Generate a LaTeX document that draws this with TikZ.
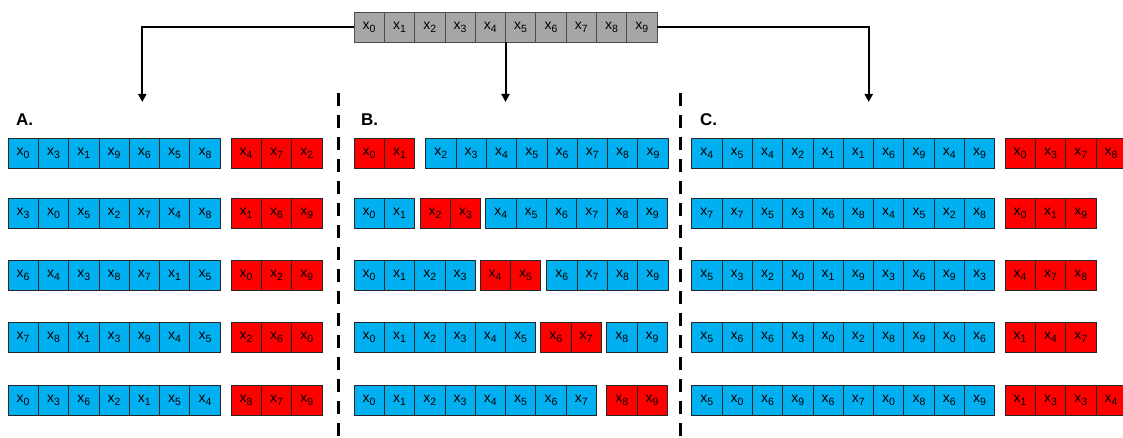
\documentclass[tikz,border=0pt]{standalone}
\usepackage{fontspec}
\setmainfont{Liberation Sans}
\usetikzlibrary{arrows.meta}
\definecolor{cblue}{HTML}{00B0F0}
\definecolor{cred}{HTML}{FF0000}
\definecolor{cgray}{HTML}{A6A6A6}
\newcommand\xs[1]{{\fontsize{14}{14}\selectfont x\raisebox{-3.2pt}{\fontsize{10.5}{10}\selectfont #1}}}
\newcommand\cellrow[5]{%
  \foreach \s [count=\i from 0] in {#5}
    \node[cellbox,#4] (#1\i) at ({#2+(\i+0.5)*30.3},{#3+15}) {\xs{\s}};}
\tikzset{
  cellbox/.style={draw=black!85,line width=0.8pt,minimum width=30.3pt,minimum height=30pt,inner sep=0pt,outer sep=0pt,anchor=center},
  bl/.style={fill=cblue},
  rd/.style={fill=cred},
  gr/.style={fill=cgray,draw=black!70},
  arr/.style={line width=2pt,-{Triangle[width=8pt,length=8pt]}},
  sep/.style={line width=3pt,dash pattern=on 13pt off 9pt},
  lab/.style={font=\fontsize{17}{17}\selectfont\bfseries,anchor=west,inner sep=0pt}
}
\begin{document}
\begin{tikzpicture}[x=1pt,y=-1pt]
\useasboundingbox (0,0) rectangle (1123,438);
\clip (0,0) rectangle (1123,438);
% top bar
\cellrow{t}{354}{12}{gr}{0,1,2,3,4,5,6,7,8,9}
\coordinate (tipA) at (142.3,102);
\coordinate (tipB) at (505.5,102);
\coordinate (tipC) at (868.7,102);
\draw[arr] (t0.west) -| (tipA);
\draw[arr] (t4.south east) -- (tipB);
\draw[arr] (t9.east) -| (tipC);
% separators
\coordinate (s1a) at (338,93); \coordinate (s1b) at (338,440);
\coordinate (s2a) at (680,93); \coordinate (s2b) at (680,440);
\draw[sep] (s1a) -- (s1b);
\draw[sep] (s2a) -- (s2b);
% labels
\node[lab] (labA) at (16,120) {A.};
\node[lab] (labB) at (361,120) {B.};
\node[lab] (labC) at (700,120) {C.};
% A
\cellrow{aa}{8}{138}{bl}{0,3,1,9,6,5,8}\cellrow{ab}{231}{138}{rd}{4,7,2}
\cellrow{ac}{8}{198}{bl}{3,0,5,2,7,4,8}\cellrow{ad}{231}{198}{rd}{1,6,9}
\cellrow{ae}{8}{260}{bl}{6,4,3,8,7,1,5}\cellrow{af}{231}{260}{rd}{0,2,9}
\cellrow{ag}{8}{322}{bl}{7,8,1,3,9,4,5}\cellrow{ah}{231}{322}{rd}{2,6,0}
\cellrow{ai}{8}{385}{bl}{0,3,6,2,1,5,4}\cellrow{aj}{231}{385}{rd}{8,7,9}
% B
\cellrow{ba}{354}{138}{rd}{0,1}\cellrow{bb}{425.7}{138}{bl}{2,3,4,5,6,7,8,9}
\cellrow{bc}{354}{198}{bl}{0,1}\cellrow{bd}{420}{198}{rd}{2,3}\cellrow{be}{485.7}{198}{bl}{4,5,6,7,8,9}
\cellrow{bf}{354}{260}{bl}{0,1,2,3}\cellrow{bg}{480}{260}{rd}{4,5}\cellrow{bh}{546.7}{260}{bl}{6,7,8,9}
\cellrow{bi}{354}{322}{bl}{0,1,2,3,4,5}\cellrow{bj}{540.7}{322}{rd}{6,7}\cellrow{bk}{606.7}{322}{bl}{8,9}
\cellrow{bl}{354}{385}{bl}{0,1,2,3,4,5,6,7}\cellrow{bm}{606.7}{385}{rd}{8,9}
% C
\cellrow{ca}{691.7}{138}{bl}{4,5,4,2,1,1,6,9,4,9}\cellrow{cb}{1005}{138}{rd}{0,3,7,8}
\cellrow{cc}{691.7}{198}{bl}{7,7,5,3,6,8,4,5,2,8}\cellrow{cd}{1005}{198}{rd}{0,1,9}
\cellrow{ce}{691.7}{260}{bl}{5,3,2,0,1,9,3,6,9,3}\cellrow{cf}{1005}{260}{rd}{4,7,8}
\cellrow{cg}{691.7}{322}{bl}{5,6,6,3,0,2,8,9,0,6}\cellrow{ch}{1005}{322}{rd}{1,4,7}
\cellrow{ci}{691.7}{385}{bl}{5,0,6,9,6,7,0,8,6,9}\cellrow{cj}{1005}{385}{rd}{1,3,3,4}
\end{tikzpicture}
\end{document}
